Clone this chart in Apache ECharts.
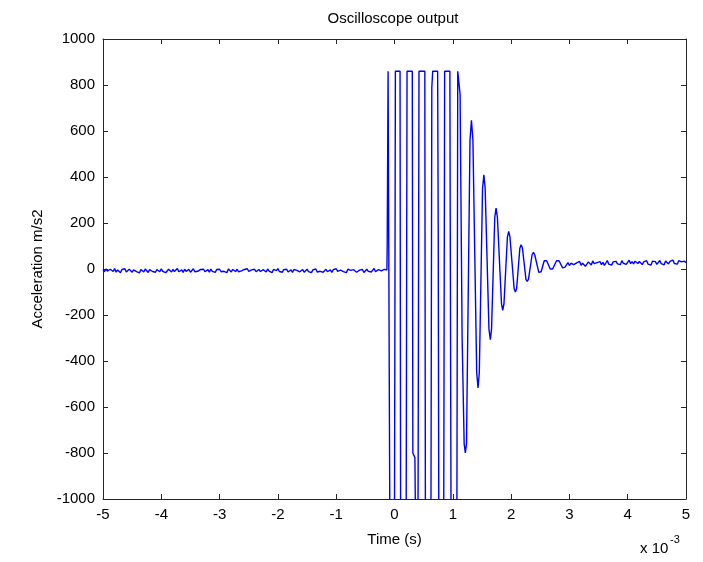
<!DOCTYPE html>
<html>
<head>
<meta charset="utf-8">
<title>Oscilloscope output</title>
<script src="https://cdn.jsdelivr.net/npm/echarts@6/dist/echarts.min.js"></script>
<style>
  html, body { margin: 0; padding: 0; background: #fff; }
  #chart { width: 703px; height: 562px; }
</style>
</head>
<body>
<div id="chart"></div>
<script>
// time in ms (axis shows x 10^-3 s), acceleration in m/s2

// baseline noise before the trigger, one sample every 0.025 ms from -5 ms
var preStart = -5.0;
var preStep = 0.025;
var preValues = [
  -2,-12,0,-9,-15,-1,-7,-11,2,-14,
  -4,-9,-16,-2,-8,1,-13,-10,-1,-9,
  -14,-4,3,-11,-6,-17,-2,-9,-13,0,
  -7,-15,-3,-1,-11,-8,-14,-2,-6,-12,
  1,-10,-4,-16,-8,-1,-7,-13,-2,-11,
  -6,2,-12,-8,-4,-15,-1,-10,-6,-2,
  -14,-8,1,-12,-4,-10,-16,-2,-7,-1,
  -12,-8,-3,-14,0,-10,-6,-15,-2,-9,
  -1,-12,-6,-10,-3,-16,0,-8,-13,-2,
  -6,-11,-1,-12,-4,-8,-15,-2,-7,1,
  -10,-14,-4,-9,-1,-12,-6,-2,-11,-15,
  -3,-8,-13,0,-9,-5,-16,-2,-10,-7,
  2,-11,-6,-14,-3,-9,-1,-13,-8,-4,
  -15,-2,-10,-6,1,-12,-7,-3,-14,-9,
  -1,-11,-5,-16,-4,-8,0,-13,-6,-10,
  -2,-14,-7,-1,-12,-9,-4,-15,-3,-8,
  1,-10,-13,-5,-2,-11,-7,-16,-1,-9,
  -6,-12,-3,0,-14,-8,-5,-11,-2,-15,
  -7,-1,-10,-4,-13,-9,2,-12,-6,-3,
  -11,-8,-14,-2
];

// saturated burst (scope clips at 860 and below the axis)
var burstPoints = [
  [-0.13,-4],[-0.125,115],[-0.11,860],[-0.09,860],[-0.08,-1100],
  [0.0,-1100],[0.015,860],[0.095,860],[0.105,-1100],
  [0.2,-1100],[0.215,860],[0.305,860],[0.315,-800],[0.35,-820],[0.36,-1100],
  [0.4,-1100],[0.405,-930],[0.42,860],
  [0.52,860],[0.53,-1100],
  [0.625,-1100],[0.64,788],[0.655,860],[0.74,860],[0.75,160],[0.76,-1100],
  [0.84,-1100],[0.845,-981],[0.86,860],[0.95,860],[0.955,300],[0.97,-1100],
  [1.07,-1100],[1.085,860],[1.115,860],[1.125,760],[1.145,760],[1.16,-300]
];

// decaying ringing after the burst
var ringPoints = [
  [1.195,-760],[1.215,-800],[1.235,-760],
  [1.295,560],[1.32,646],[1.345,560],
  [1.41,-450],[1.433,-517],[1.455,-450],
  [1.51,350],[1.533,410],[1.555,350],
  [1.62,-260],[1.644,-307],[1.665,-260],
  [1.72,225],[1.742,265],[1.765,225],
  [1.835,-150],[1.856,-180],[1.878,-150],
  [1.937,140],[1.959,163],[1.98,140],
  [2.052,-85],[2.074,-100],[2.095,-85],
  [2.15,90],[2.172,106],[2.195,90],
  [2.255,-45],[2.275,-54],[2.298,-45],
  [2.36,62],[2.383,72],[2.405,62],
  [2.475,-15],[2.495,-20],[2.515,-12],
  [2.568,36],[2.589,43],[2.61,36],
  [2.672,0],[2.692,-6],[2.712,0],
  [2.78,36],[2.801,43],[2.822,36],
  [2.884,5],[2.904,0],[2.925,8]
];

// settled offset after the ringing, every 0.025 ms from 2.95 ms
var postStart = 2.95;
var postStep = 0.025;
var postValues = [
  18,28,15,25,32,19,13,27,22,33,
  16,25,30,12,21,31,26,17,35,23,
  15,28,24,32,19,29,16,26,37,21,
  27,17,31,24,33,22,29,19,36,25,
  30,20,27,38,23,32,22,34,28,24,
  33,26,19,31,25,36,21,29,17,34,
  26,32,20,28,37,23,30,18,35,27,
  22,33,25,39,24,29,21,36,28,31,
  25,34,27
];

var xTicks = [-5, 5, 1];
var yTicks = [-1000, 1000, 200];

var data = [];
for (var i = 0; i < preValues.length; i++) {
    data.push([preStart + i * preStep, preValues[i]]);
}
data = data.concat(burstPoints, ringPoints);
for (var j = 0; j < postValues.length; j++) {
    data.push([postStart + j * postStep, postValues[j]]);
}

var font = 'Arial, "Liberation Sans", Helvetica, sans-serif';
var axisColor = '#262626';

function boxAxis(pos, labels, extra) {
    var ax = {
        type: 'value',
        position: pos,
        axisLine: { show: true, onZero: false, lineStyle: { color: axisColor, width: 1 } },
        axisTick: { show: true, inside: true, length: 5, lineStyle: { color: axisColor } },
        axisLabel: { show: labels, color: '#000', fontSize: 15, fontFamily: font, margin: 8,
            formatter: function (v) { return String(v); } },
        splitLine: { show: false }
    };
    for (var k in extra) ax[k] = extra[k];
    return ax;
}

var nameStyle = { color: '#000', fontSize: 15, fontFamily: font };

var chart = echarts.init(document.getElementById('chart'));
chart.setOption({
    animation: false,
    backgroundColor: '#fff',
    grid: { left: 103, right: 17, top: 39, bottom: 63 },
    xAxis: [
        boxAxis('bottom', true, { min: xTicks[0], max: xTicks[1], interval: xTicks[2],
            name: 'Time (s)', nameLocation: 'middle', nameGap: 33, nameTextStyle: nameStyle }),
        boxAxis('top', false, { min: xTicks[0], max: xTicks[1], interval: xTicks[2] })
    ],
    yAxis: [
        boxAxis('left', true, { min: yTicks[0], max: yTicks[1], interval: yTicks[2],
            name: 'Acceleration m/s2', nameLocation: 'middle', nameGap: 58, nameTextStyle: nameStyle }),
        boxAxis('right', false, { min: yTicks[0], max: yTicks[1], interval: yTicks[2] })
    ],
    graphic: [
        {
            type: 'text',
            style: { x: 393, y: 19, text: 'Oscilloscope output', fill: '#000',
                font: '15px ' + font, textAlign: 'center', textVerticalAlign: 'middle' }
        },
        {
            type: 'text',
            style: { x: 640, y: 549, text: 'x 10', fill: '#000',
                font: '15px ' + font, textAlign: 'left', textVerticalAlign: 'middle' }
        },
        {
            type: 'text',
            style: { x: 670, y: 540, text: '-3', fill: '#000',
                font: '11px ' + font, textAlign: 'left', textVerticalAlign: 'middle' }
        }
    ],
    series: [{
        type: 'line',
        data: data,
        xAxisIndex: 0,
        yAxisIndex: 0,
        showSymbol: false,
        clip: true,
        lineStyle: { color: '#0000ff', width: 1.4 }
    }]
});
</script>
</body>
</html>
